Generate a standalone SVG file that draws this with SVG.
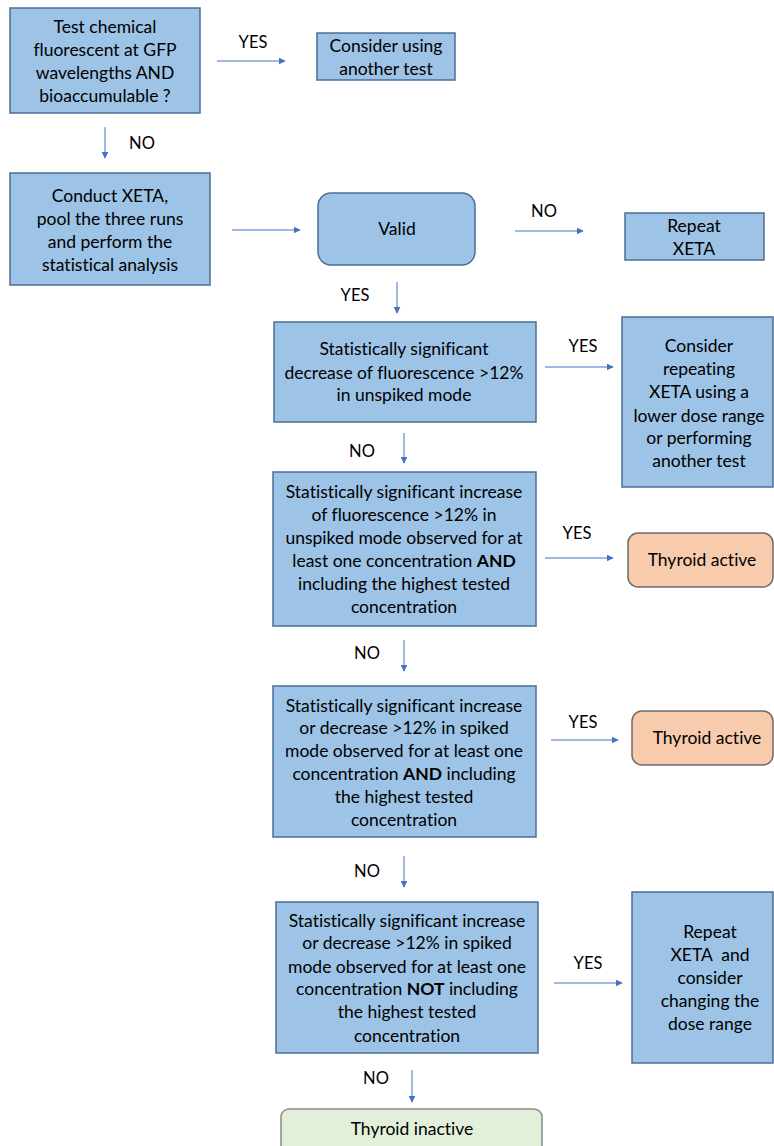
<svg xmlns="http://www.w3.org/2000/svg" width="774" height="1146" viewBox="0 0 774 1146">
<style>
.box{fill:#9DC3E6;stroke:#4A6F96;stroke-width:1.5}
.act{fill:#F8CBAD;stroke:#6E6A6A;stroke-width:1.5}
.inact{fill:#E2F0D9;stroke:#8A8A8A;stroke-width:1.5}
text{font-family:Lato,"Liberation Sans",sans-serif;font-size:17.5px;fill:#000;text-anchor:middle;font-variant-ligatures:none;font-feature-settings:"liga" 0}
.lbl{font-size:16.5px}
.c{stroke:#4472C4;stroke-width:1;fill:none;marker-end:url(#ah)}
</style>
<defs>
<marker id="ah" viewBox="0 0 10 10" refX="9" refY="5" markerWidth="7" markerHeight="7" markerUnits="userSpaceOnUse" orient="auto">
<path d="M0,0 L10,5 L0,10 z" fill="#4472C4"/>
</marker>
</defs>
<rect width="774" height="1146" fill="#fff"/>
<g id="connectors">
<line class="c" x1="217" y1="61" x2="285" y2="61"/>
<line class="c" x1="105" y1="127" x2="105" y2="158"/>
<line class="c" x1="232" y1="230" x2="300" y2="230"/>
<line class="c" x1="515" y1="231" x2="583" y2="231"/>
<line class="c" x1="397" y1="282" x2="397" y2="313"/>
<line class="c" x1="545" y1="367" x2="613" y2="367"/>
<line class="c" x1="404" y1="433" x2="404" y2="463"/>
<line class="c" x1="545" y1="558" x2="613" y2="558"/>
<line class="c" x1="404" y1="640" x2="404" y2="671"/>
<line class="c" x1="551" y1="740" x2="618" y2="740"/>
<line class="c" x1="404" y1="856" x2="404" y2="887"/>
<line class="c" x1="554" y1="983" x2="622" y2="983"/>
<line class="c" x1="412" y1="1070" x2="412" y2="1102"/>
<text class="lbl" x="253" y="48">YES</text>
<text class="lbl" x="142" y="149">NO</text>
<text class="lbl" x="544" y="217">NO</text>
<text class="lbl" x="355" y="301">YES</text>
<text class="lbl" x="583" y="352">YES</text>
<text class="lbl" x="362" y="457">NO</text>
<text class="lbl" x="577" y="539">YES</text>
<text class="lbl" x="367" y="659">NO</text>
<text class="lbl" x="583" y="728">YES</text>
<text class="lbl" x="367" y="877">NO</text>
<text class="lbl" x="588" y="969">YES</text>
<text class="lbl" x="376" y="1084">NO</text>
</g>
<g id="n1">
<rect class="box" x="10" y="8" width="190" height="105"/>
<text x="105" y="33">Test chemical</text>
<text x="105" y="56">fluorescent at GFP</text>
<text x="105" y="79">wavelengths AND</text>
<text x="105" y="102">bioaccumulable ?</text>
</g>
<g id="n2">
<rect class="box" x="317" y="33" width="138" height="47"/>
<text x="386" y="52">Consider using</text>
<text x="386" y="75">another test</text>
</g>
<g id="n3">
<rect class="box" x="10" y="173" width="200" height="112"/>
<text x="110" y="202">Conduct XETA,</text>
<text x="110" y="225">pool the three runs</text>
<text x="110" y="248">and perform the</text>
<text x="110" y="271">statistical analysis</text>
</g>
<g id="n4">
<rect class="box" x="318" y="193" width="157" height="72" rx="13"/>
<text x="397" y="235">Valid</text>
</g>
<g id="n5">
<rect class="box" x="625" y="213" width="139" height="47"/>
<text x="694" y="232">Repeat</text>
<text x="694" y="255">XETA</text>
</g>
<g id="n6">
<rect class="box" x="274" y="322" width="262" height="100"/>
<text x="404" y="355">Statistically significant</text>
<text x="404" y="379">decrease of fluorescence &gt;12%</text>
<text x="404" y="401">in unspiked mode</text>
</g>
<g id="n7">
<rect class="box" x="622" y="317" width="151" height="170"/>
<text x="699" y="352">Consider</text>
<text x="699" y="375">repeating</text>
<text x="699" y="398">XETA using a</text>
<text x="699" y="422">lower dose range</text>
<text x="699" y="444">or performing</text>
<text x="699" y="467">another test</text>
</g>
<g id="n8">
<rect class="box" x="273" y="472" width="263" height="154"/>
<text x="404" y="498">Statistically significant increase</text>
<text x="404" y="521">of fluorescence &gt;12% in</text>
<text x="404" y="544">unspiked mode observed for at</text>
<text x="404" y="567">least one concentration <tspan font-weight="bold">AND</tspan></text>
<text x="404" y="590">including the highest tested</text>
<text x="404" y="613">concentration</text>
</g>
<g id="n9">
<rect class="act" x="628" y="533" width="145" height="54" rx="10"/>
<text x="702" y="566">Thyroid active</text>
</g>
<g id="n10">
<rect class="box" x="273" y="686" width="263" height="151"/>
<text x="404" y="712">Statistically significant increase</text>
<text x="404" y="734">or decrease &gt;12% in spiked</text>
<text x="404" y="757">mode observed for at least one</text>
<text x="404" y="780">concentration <tspan font-weight="bold">AND</tspan> including</text>
<text x="404" y="803">the highest tested</text>
<text x="404" y="826">concentration</text>
</g>
<g id="n11">
<rect class="act" x="632" y="711" width="141" height="54" rx="10"/>
<text x="707" y="744">Thyroid active</text>
</g>
<g id="n12">
<rect class="box" x="276" y="902" width="262" height="151"/>
<text x="407" y="927">Statistically significant increase</text>
<text x="407" y="949">or decrease &gt;12% in spiked</text>
<text x="407" y="973">mode observed for at least one</text>
<text x="407" y="995">concentration <tspan font-weight="bold">NOT</tspan> including</text>
<text x="407" y="1018">the highest tested</text>
<text x="407" y="1042">concentration</text>
</g>
<g id="n13">
<rect class="box" x="632" y="892" width="141" height="171"/>
<text x="710" y="938">Repeat</text>
<text x="710" y="961">XETA&#160; and</text>
<text x="710" y="984">consider</text>
<text x="710" y="1007">changing the</text>
<text x="710" y="1030">dose range</text>
</g>
<g id="n14">
<rect class="inact" x="281" y="1109" width="261" height="50" rx="8"/>
<text x="412" y="1135">Thyroid inactive</text>
</g>
</svg>
